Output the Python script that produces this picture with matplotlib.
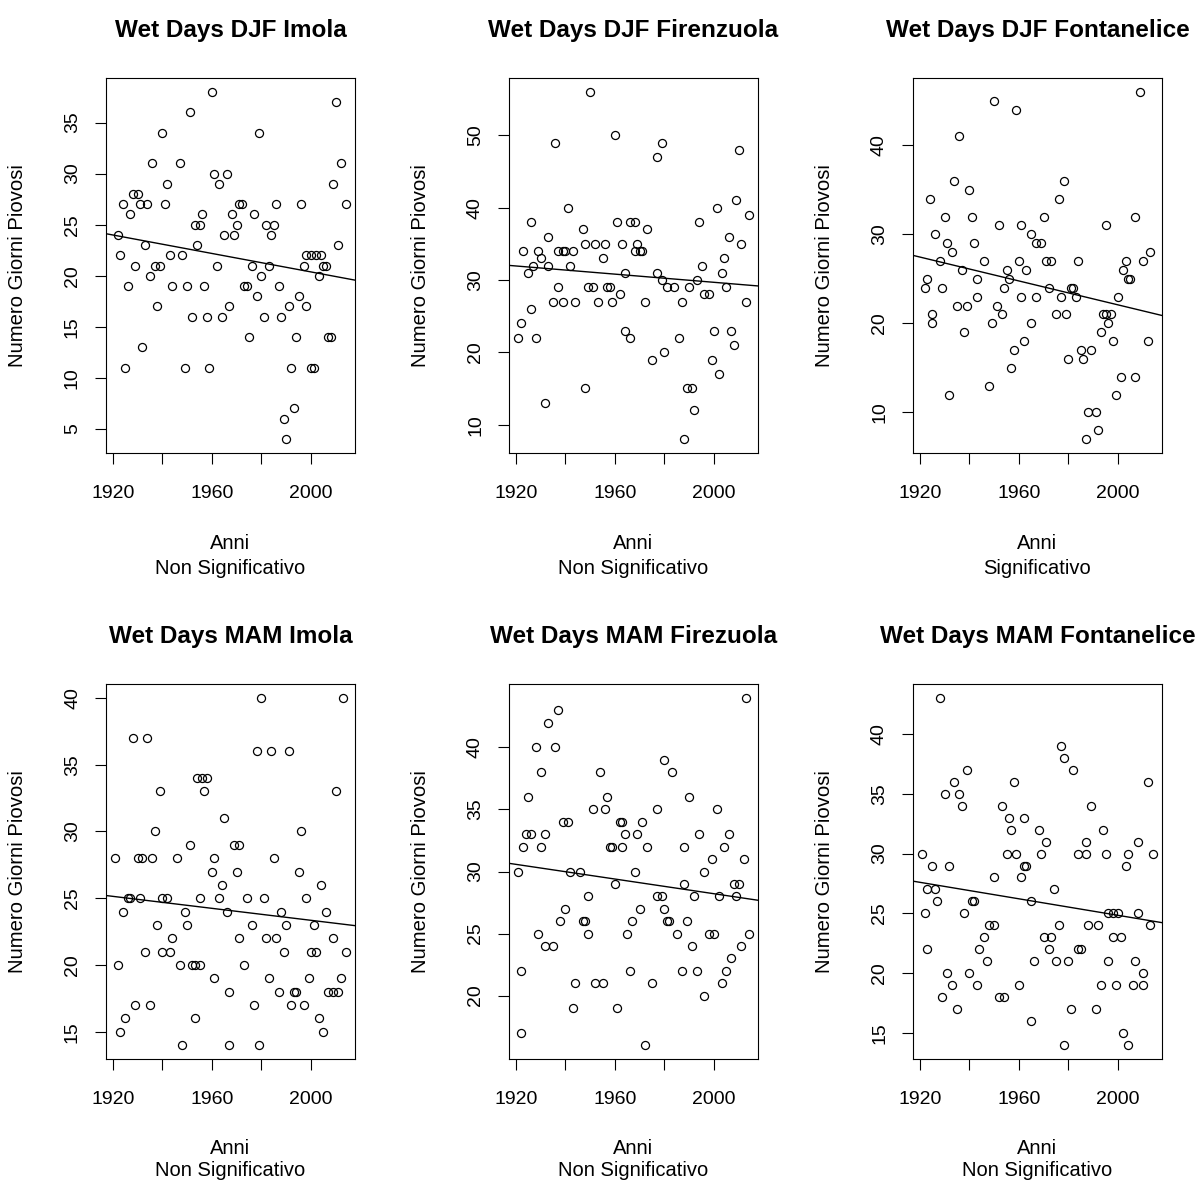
import numpy as np
import matplotlib; matplotlib.use("Agg")
import matplotlib.pyplot as plt

plt.rcParams.update({'font.family': ['Liberation Sans', 'DejaVu Sans'], 'font.size': 14})

# wet days per year (year, days)
imola_djf = [(1960,38),(1951,36),(1940,34),(1936,31),(1947,31),(1961,30),(1966,30),(1963,29),(1942,29),(1928,28),
 (1930,28),(1924,27),(1931,27),(1934,27),(1941,27),(1927,26),(1956,26),(1953,25),(1955,25),(1922,24),(1965,24),
 (1933,23),(1954,23),(1923,22),(1943,22),(1948,22),(1929,21),(1937,21),(1939,21),(1962,21),(1935,20),(1926,19),
 (1944,19),(1950,19),(1957,19),(1938,17),(1952,16),(1958,16),(1964,16),(1925,11),(1932,13),(1949,11),(1959,11),
 (2010,37),(1979,34),(2012,31),(2009,29),(1971,27),(1972,27),(1986,27),(1996,27),(2014,27),(1968,26),(1977,26),
 (1970,25),(1982,25),(1985,25),(1969,24),(1984,24),(2011,23),(1998,22),(2000,22),(2002,22),(2004,22),(1997,21),
 (2005,21),(2006,21),(1976,21),(1983,21),(1980,20),(2003,20),(1973,19),(1974,19),(1987,19),(1978,18),(1995,18),
 (1967,17),(1991,17),(1998,17),(1981,16),(1988,16),(1975,14),(1994,14),(2007,14),(2008,14),(1992,11),(2000,11),
 (2001,11),(1993,7),(1989,6),(1990,4)]
firenzuola_djf = [(1950,56),(1960,50),(1936,49),(1941,40),(1926,38),(1961,38),(1947,37),(1933,36),(1923,34),
 (1929,34),(1937,34),(1939,34),(1940,34),(1943,34),(1948,35),(1952,35),(1956,35),(1963,35),(1930,33),(1955,33),
 (1927,32),(1933,32),(1942,32),(1925,31),(1964,31),(1937,29),(1949,29),(1951,29),(1957,29),(1958,29),(1935,27),
 (1939,27),(1944,27),(1953,27),(1959,27),(1962,28),(1926,26),(1922,24),(1921,22),(1928,22),(1964,23),(1966,22),
 (1948,15),(1932,13),
 (1979,49),(1977,47),(2010,48),(2001,40),(2009,41),(2014,39),(1994,38),(1966,38),(1968,38),(1973,37),(2006,36),
 (2011,35),(1969,35),(1968,34),(1970,34),(1971,34),(2004,33),(1995,32),(2003,31),(1977,31),(1979,30),(1981,29),
 (1984,29),(1993,30),(1990,29),(2005,29),(1996,28),(1998,28),(1972,27),(1987,27),(2013,27),(2000,23),(2007,23),
 (1986,22),(2008,21),(1980,20),(1975,19),(1999,19),(2002,17),(1989,15),(1991,15),(1992,12),(1988,8)]
fontanelice_djf = [(1950,45),(1959,44),(1936,41),(1934,36),(1940,35),(1924,34),(1930,32),(1941,32),(1952,31),
 (1961,31),(1926,30),(1931,29),(1933,28),(1942,29),(1928,27),(1937,26),(1946,27),(1955,26),(1960,27),(1923,25),
 (1922,24),(1929,24),(1943,25),(1956,25),(1954,24),(1961,23),(1943,23),(1935,22),(1939,22),(1951,22),(1953,21),
 (1925,21),(1925,20),(1949,20),(1938,19),(1962,18),(1958,17),(1957,15),(1948,13),(1932,12),
 (2009,46),(1978,36),(1976,34),(1970,32),(1995,31),(2007,32),(1965,30),(1967,29),(1969,29),(1971,27),(1973,27),
 (1984,27),(1963,26),(2003,27),(2010,27),(2013,28),(2002,26),(2004,25),(2005,25),(1972,24),(1981,24),(1982,24),
 (1967,23),(1977,23),(1983,23),(2000,23),(1975,21),(1979,21),(1994,21),(1997,21),(1995,21),(1996,20),(1965,20),
 (1993,19),(1998,18),(2012,18),(1985,17),(1989,17),(1980,16),(1986,16),(2001,14),(2007,14),(1999,12),(1988,10),
 (1991,10),(1992,8),(1987,7)]
imola_mam = [(1928,37),(1934,37),(1954,34),(1956,34),(1958,34),(1957,33),(1939,33),(1965,31),(1937,30),(1951,29),
 (1921,28),(1930,28),(1932,28),(1936,28),(1946,28),(1961,28),(1960,27),(1964,26),(1926,25),(1927,25),(1931,25),
 (1940,25),(1942,25),(1955,25),(1963,25),(1924,24),(1949,24),(1966,24),(1938,23),(1950,23),(1944,22),(1933,21),
 (1940,21),(1943,21),(1922,20),(1947,20),(1952,20),(1953,20),(1955,20),(1961,19),(1967,18),(1929,17),(1935,17),
 (1925,16),(1953,16),(1923,15),(1948,14),(1967,14),
 (1980,40),(2013,40),(1978,36),(1984,36),(1991,36),(2010,33),(1996,30),(1969,29),(1971,29),(1985,28),(1970,27),
 (1995,27),(2004,26),(1974,25),(1981,25),(1998,25),(1988,24),(2006,24),(1976,23),(1990,23),(2001,23),(1971,22),
 (1982,22),(1986,22),(2009,22),(1989,21),(2000,21),(2002,21),(2014,21),(1973,20),(1983,19),(1999,19),(2012,19),
 (1987,18),(1993,18),(1994,18),(2007,18),(2009,18),(2011,18),(1977,17),(1992,17),(1997,17),(2003,16),(2005,15),
 (1979,14)]
firenzuola_mam = [(1937,43),(1933,42),(1928,40),(1936,40),(1930,38),(1954,38),(1925,36),(1957,36),(1951,35),
 (1956,35),(1939,34),(1941,34),(1962,34),(1963,34),(1924,33),(1926,33),(1932,33),(1964,33),(1923,32),(1930,32),
 (1958,32),(1959,32),(1963,32),(1921,30),(1942,30),(1946,30),(1960,29),(1949,28),(1940,27),(1938,26),(1947,26),
 (1948,26),(1929,25),(1949,25),(1965,25),(1932,24),(1935,24),(1922,22),(1966,22),(1944,21),(1952,21),(1955,21),
 (1943,19),(1961,19),(1922,17),
 (2013,44),(1980,39),(1983,38),(1990,36),(1977,35),(2001,35),(1971,34),(1969,33),(1994,33),(2006,33),(1973,32),
 (1988,32),(2004,32),(1999,31),(2012,31),(1968,30),(1996,30),(1988,29),(2008,29),(2010,29),(1977,28),(1979,28),
 (1992,28),(2002,28),(2009,28),(1970,27),(1980,27),(1967,26),(1981,26),(1982,26),(1989,26),(1985,25),(1998,25),
 (2000,25),(2014,25),(1991,24),(2011,24),(2007,23),(1987,22),(1993,22),(2005,22),(1975,21),(2003,21),(1996,20),
 (1972,16)]
fontanelice_mam = [(1928,43),(1939,37),(1934,36),(1930,35),(1936,35),(1937,34),(1958,36),(1953,34),(1956,33),
 (1957,32),(1962,33),(1921,30),(1955,30),(1959,30),(1962,29),(1961,28),(1925,29),(1932,29),(1950,28),(1923,27),
 (1926,27),(1927,26),(1941,26),(1942,26),(1922,25),(1938,25),(1948,24),(1950,24),(1946,23),(1923,22),(1944,22),
 (1947,21),(1931,20),(1940,20),(1933,19),(1943,19),(1960,19),(1929,18),(1952,18),(1954,18),(1935,17),
 (1977,39),(1978,38),(1982,37),(2012,36),(1989,34),(1968,32),(1994,32),(1971,31),(1987,31),(2008,31),(1969,30),
 (1984,30),(1987,30),(1995,30),(2004,30),(2014,30),(1963,29),(2003,29),(1974,27),(1965,26),(1996,25),(1998,25),
 (2000,25),(2008,25),(1976,24),(1988,24),(1992,24),(2013,24),(1970,23),(1973,23),(1972,22),(1984,22),(1985,22),
 (1998,23),(2001,23),(1966,21),(1975,21),(1980,21),(1996,21),(2007,21),(2010,20),(1993,19),(1999,19),(2006,19),
 (2010,19),(1981,17),(1991,17),(1965,16),(2002,15),(2004,14),(1978,14)]

first_year, last_year = 1921, 2014
titles = ['Wet Days DJF Imola', 'Wet Days DJF Firenzuola', 'Wet Days DJF Fontanelice',
          'Wet Days MAM Imola', 'Wet Days MAM Firezuola', 'Wet Days MAM Fontanelice']
verdicts = ['Non Significativo', 'Non Significativo', 'Significativo',
            'Non Significativo', 'Non Significativo', 'Non Significativo']
series = [imola_djf, firenzuola_djf, fontanelice_djf, imola_mam, firenzuola_mam, fontanelice_mam]
ysteps = [5, 10, 10, 5, 5, 5]

W, H = 1196, 1183
fig = plt.figure(figsize=(W/100, H/100), dpi=100)
lefts = [106, 509, 913]; tops = [78, 684]; aw, ah = 249, 375
xlab_off = [(91, 116), (89, 111)]

for i, (pts, title, verdict, step) in enumerate(zip(series, titles, verdicts, ysteps)):
    l, t = lefts[i % 3], tops[i // 3]
    ax = fig.add_axes([l/W, 1-(t+ah)/H, aw/W, ah/H])
    yr = np.array([p[0] for p in pts], float); d = np.array([p[1] for p in pts], float)
    ax.plot(yr, d, 'o', mfc='none', mec='black', ms=5.8, mew=0.9)
    span = last_year - first_year
    xl = (first_year - 0.04*span, last_year + 0.04*span)
    r = d.max() - d.min(); yl = (d.min() - 0.04*r, d.max() + 0.04*r)
    b, a = np.polyfit(yr, d, 1)
    xx = np.array(xl); ax.plot(xx, a + b*xx, color='black', lw=1)
    ax.set_xlim(xl); ax.set_ylim(yl)
    ax.set_xticks([1920, 1940, 1960, 1980, 2000]); ax.set_xticklabels(['1920', '', '1960', '', '2000'])
    yt = np.arange(np.ceil(d.min()/step)*step, d.max()+0.1, step)
    ax.set_yticks(yt); ax.set_yticklabels([f'{v:.0f}' for v in yt], rotation=90, va='center')
    ax.tick_params(direction='out', length=8, width=0.8, labelsize=14)
    ax.tick_params(axis='x', pad=15)
    ax.tick_params(axis='y', pad=10)
    for s in ax.spines.values(): s.set_linewidth(0.8)
    cx = (l + aw/2)/W
    o1, o2 = xlab_off[i // 3]
    fig.text(cx, 1-(t-48)/H, title, ha='center', va='center', fontsize=17.5, fontweight='bold')
    fig.text((l-88)/W, 1-(t+ah/2)/H, 'Numero Giorni Piovosi', rotation=90, ha='center', va='center', fontsize=14.6)
    fig.text(cx, 1-(t+ah+o1)/H, 'Anni', ha='center', va='center', fontsize=14.5)
    fig.text(cx, 1-(t+ah+o2)/H, verdict, ha='center', va='center', fontsize=14.5)

fig.savefig('out.png', dpi=100)
